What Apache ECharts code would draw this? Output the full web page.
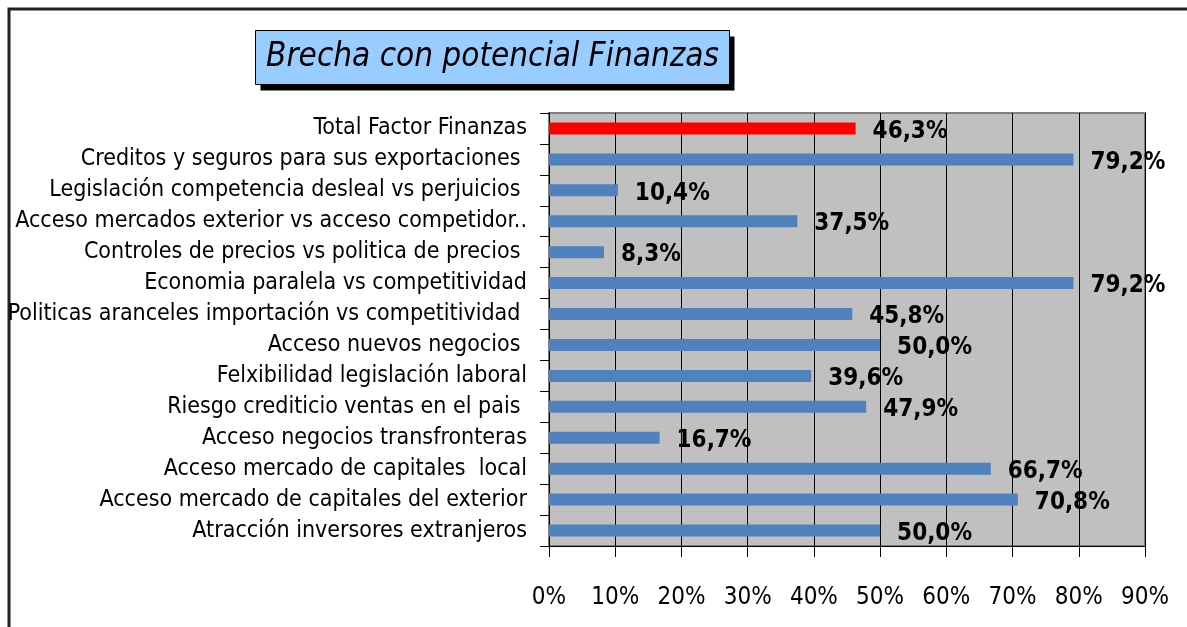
<!DOCTYPE html>
<html>
<head>
<meta charset="utf-8">
<script src="https://cdn.jsdelivr.net/npm/echarts@6/dist/echarts.min.js"></script>
<style>
  html, body { margin: 0; padding: 0; background: #fff; }
  #chart { width: 1187px; height: 627px; }
</style>
</head>
<body>
<div id="chart"></div>
<script>
// categories, top to bottom
var categories = [
  'Total Factor Finanzas',
  'Creditos y seguros para sus exportaciones ',
  'Legislación competencia desleal vs perjuicios ',
  'Acceso mercados exterior vs acceso competidor..',
  'Controles de precios vs politica de precios ',
  'Economia paralela vs competitividad',
  'Politicas aranceles importación vs competitividad ',
  'Acceso nuevos negocios ',
  'Felxibilidad legislación laboral',
  'Riesgo crediticio ventas en el pais ',
  'Acceso negocios transfronteras',
  'Acceso mercado de capitales  local',
  'Acceso mercado de capitales del exterior',
  'Atracción inversores extranjeros'
]
var brecha = [46.3, 79.2, 10.4, 37.5, 8.3, 79.2, 45.8, 50.0, 39.6, 47.9, 16.7, 66.7, 70.8, 50.0]
var totalIndex = 0
var chartTitle = 'Brecha con potencial Finanzas'

var FONT = "'Liberation Sans Narrow', 'Arial Narrow', 'DejaVu Sans Condensed', 'Liberation Sans', Arial, sans-serif"

var myChart = echarts.init(document.getElementById('chart'))
myChart.setOption({
  animation: false,
  backgroundColor: '#ffffff',
  graphic: [
    {
      type: 'rect',
      shape: { x: 9, y: 9, width: 1400, height: 900 },
      style: { fill: 'none', stroke: '#222222', lineWidth: 3 },
      silent: true
    },
    {
      type: 'group',
      left: 255,
      top: 30,
      children: [
        { type: 'rect', shape: { x: 5, y: 6, width: 474, height: 54 }, style: { fill: '#000000' } },
        { type: 'rect', shape: { x: 0, y: 0, width: 474, height: 54 }, style: { fill: '#99CCFF', stroke: '#000000', lineWidth: 1 } },
        {
          type: 'text',
          x: 237,
          y: 27,
          style: {
            text: chartTitle,
            align: 'center',
            verticalAlign: 'middle',
            fill: '#000000',
            font: 'italic normal 33px ' + FONT
          }
        }
      ]
    }
  ],
  grid: {
    left: 549,
    top: 113,
    width: 596,
    height: 433,
    containLabel: false,
    outerBoundsMode: 'none',
    show: true,
    backgroundColor: '#C0C0C0',
    borderColor: '#808080',
    borderWidth: 2
  },
  xAxis: {
    type: 'value',
    min: 0,
    max: 90,
    interval: 10,
    axisLine: { show: true, lineStyle: { color: '#000000', width: 1 } },
    axisTick: { show: true, length: 11, lineStyle: { color: '#000000' } },
    splitLine: { show: true, lineStyle: { color: '#000000', width: 1 } },
    axisLabel: {
      margin: 40,
      formatter: '{value}%',
      color: '#000000',
      fontFamily: FONT,
      fontSize: 24
    }
  },
  yAxis: {
    type: 'category',
    inverse: true,
    data: categories,
    axisLine: { show: true, lineStyle: { color: '#000000', width: 1 } },
    axisTick: { show: true, length: 9, lineStyle: { color: '#000000' } },
    splitLine: { show: false },
    axisLabel: {
      interval: 0,
      margin: 22,
      color: '#000000',
      fontFamily: FONT,
      fontSize: 23
    }
  },
  series: [
    {
      name: 'Brecha',
      type: 'bar',
      barWidth: 12,
      data: brecha.map(function (v, i) {
        return i === totalIndex ? { value: v, itemStyle: { color: '#FF0000' } } : v
      }),
      itemStyle: { color: '#4F81BD' },
      label: {
        show: true,
        position: 'right',
        distance: 17,
        offset: [0, 3],
        formatter: function (p) { return p.value.toFixed(1).replace('.', ',') + '%' },
        color: '#000000',
        fontFamily: FONT,
        fontWeight: 'bold',
        fontSize: 24
      }
    }
  ]
})
</script>
</body>
</html>
